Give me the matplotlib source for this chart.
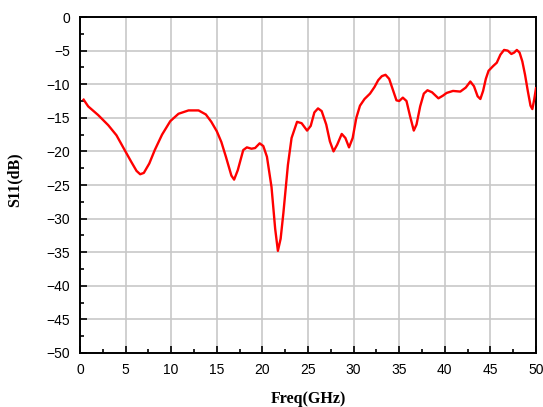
import matplotlib
matplotlib.use("Agg")
import matplotlib.pyplot as plt
from matplotlib.ticker import MultipleLocator

# S11 curve
freq = [0.4, 0.9, 2.0, 3.1, 4.0, 4.9, 5.6, 6.2, 6.6, 7.0, 7.6, 8.2, 9.0, 9.9,
        10.8, 11.9, 13.0, 13.8, 14.4, 15.0, 15.5, 16.0, 16.6, 16.9, 17.3, 17.9,
        18.3, 18.8, 19.2, 19.7, 20.1, 20.5, 21.0, 21.4, 21.7, 22.0, 22.3, 22.8,
        23.2, 23.8, 24.3, 24.9, 25.3, 25.7, 26.1, 26.5, 27.0, 27.4, 27.8, 28.2,
        28.7, 29.1, 29.5, 29.9, 30.3, 30.7, 31.2, 31.8, 32.3, 32.7, 33.1, 33.5,
        33.9, 34.3, 34.7, 35.0, 35.4, 35.8, 36.2, 36.6, 36.9, 37.3, 37.7, 38.1,
        38.6, 39.3, 39.8, 40.2, 40.9, 41.7, 42.3, 42.8, 43.2, 43.6, 43.9, 44.2,
        44.5, 44.8, 45.3, 45.7, 46.1, 46.5, 46.9, 47.3, 47.6, 47.9, 48.2, 48.5,
        48.8, 49.1, 49.4, 49.6, 49.8, 50.0]
s11 = [-12.3, -13.3, -14.6, -16.1, -17.6, -19.8, -21.5, -22.9, -23.4, -23.2,
       -21.8, -19.8, -17.5, -15.5, -14.4, -13.9, -13.9, -14.5, -15.6, -17.0,
       -18.6, -20.8, -23.6, -24.2, -22.8, -19.8, -19.4, -19.6, -19.5, -18.8,
       -19.2, -20.8, -25.3, -31.5, -34.8, -33.0, -29.2, -22.0, -18.0, -15.6,
       -15.8, -16.9, -16.2, -14.2, -13.6, -14.0, -16.0, -18.5, -20.0, -19.0,
       -17.4, -18.0, -19.4, -18.0, -15.0, -13.2, -12.2, -11.4, -10.4, -9.4,
       -8.8, -8.6, -9.2, -10.8, -12.4, -12.5, -12.0, -12.5, -14.8, -16.9,
       -16.0, -13.3, -11.4, -10.9, -11.2, -12.1, -11.7, -11.3, -11.0, -11.1,
       -10.5, -9.6, -10.3, -11.8, -12.2, -11.0, -9.2, -8.0, -7.3, -6.8,
       -5.6, -4.9, -5.0, -5.5, -5.3, -4.9, -5.3, -6.6, -8.6, -11.0, -13.2,
       -13.7, -12.3, -10.6]

fig = plt.figure(figsize=(5.43, 4.07), dpi=100)
ax = fig.add_axes([0.1473, 0.1327, 0.8398, 0.8255])

ax.plot(freq, s11, color="#ff0000", lw=1.7, zorder=3)

ax.set_xlim(0, 50)
ax.set_ylim(-50, 0)
ax.xaxis.set_major_locator(MultipleLocator(5))
ax.xaxis.set_minor_locator(MultipleLocator(2.5))
ax.yaxis.set_major_locator(MultipleLocator(5))
ax.yaxis.set_minor_locator(MultipleLocator(2.5))
ax.grid(True, which="major", color="#c8c8c8", lw=1.2)
ax.set_axisbelow(True)

ax.tick_params(which="both", direction="in", top=False, right=False,
               labelsize=10, width=1.2)
ax.tick_params(which="major", length=5)
ax.tick_params(which="minor", length=3)
ax.tick_params(axis="x", which="major", pad=7)
ax.tick_params(axis="y", which="major", pad=7)
for lab in ax.get_xticklabels() + ax.get_yticklabels():
    lab.set_fontfamily("Liberation Sans")
for sp in ax.spines.values():
    sp.set_linewidth(1.4)

ax.set_xlabel("Freq(GHz)", fontfamily="Liberation Serif", fontweight="bold",
              fontsize=11.5)
ax.set_ylabel("S11(dB)", fontfamily="Liberation Serif", fontweight="bold",
              fontsize=11.5)
ax.xaxis.set_label_coords(0.5, -0.113)
ax.yaxis.set_label_coords(-0.125, 0.515)

fig.savefig("out.png", dpi=100)
